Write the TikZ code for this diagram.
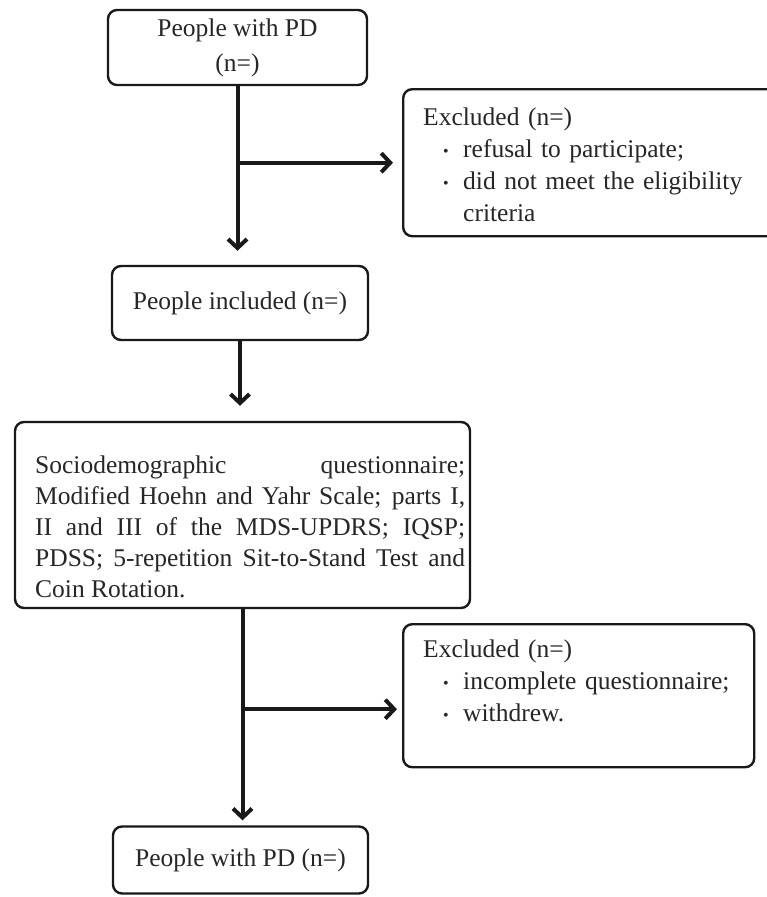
\documentclass[tikz,border=0pt]{standalone}
\usepackage{fontspec}
\setmainfont{Liberation Serif}
\usetikzlibrary{arrows.meta,calc}
\begin{document}
\begin{tikzpicture}[x=1pt,y=-1pt,
  box/.style={draw=black!90, line width=2.4pt, rounded corners=9pt, inner sep=0pt},
  txt/.style={inner sep=0pt, text=black!85, font=\fontsize{25.5}{32}\selectfont},
  arr/.style={draw=black!90, line width=4pt, -{Straight Barb[length=9pt,width=19pt]}}]
\useasboundingbox (0,0) rectangle (767,897);
\newcommand{\mybul}{\hspace*{20pt}\makebox[20pt][l]{\raisebox{1pt}{\fontsize{16}{16}\selectfont •}}}

\node[box, minimum width=259pt, minimum height=75pt, text=black!85, font=\fontsize{25.5}{35}\selectfont, align=center] (b1) at (237.5,47.5) {People with PD\\(n=)};

\node[box, minimum width=256pt, minimum height=74pt, text=black!85, font=\fontsize{25.5}{32}\selectfont] (b2) at (240,303) {People included (n=)};

\node[box, minimum width=455pt, minimum height=186pt] (b3) at (242.5,515) {};
\node[txt, text width=430pt, align=justify, anchor=north west, font=\fontsize{25.5}{30.8}\selectfont] (b3t) at (35,456) {Sociodemographic questionnaire;\linebreak Modified Hoehn and Yahr Scale; parts I,\linebreak II and III of the MDS-UPDRS; IQSP;\linebreak PDSS; 5-repetition Sit-to-Stand Test and\linebreak Coin Rotation.};

\node[box, minimum width=390pt, minimum height=147pt, anchor=north west] (e1) at (402,88) {};
\node[txt, text width=340pt, align=left, anchor=north west] (e1t) at (423,108) {Excluded (n=)\\
\mybul refusal to participate;\\
\mybul\parbox[t]{290pt}{\hyphenpenalty=10000 did not meet the eligibility\linebreak criteria}};

\node[box, minimum width=351pt, minimum height=143pt, anchor=north west] (e2) at (402,623) {};
\node[txt, text width=330pt, align=left, anchor=north west] (e2t) at (423,639.5) {Excluded (n=)\\
\mybul incomplete questionnaire;\\
\mybul withdrew.};

\node[box, minimum width=255pt, minimum height=67pt, text=black!85, font=\fontsize{25.5}{32}\selectfont] (b5) at (240.5,860) {People with PD (n=)};

\draw[arr] (b1.south) -- ($(b1.south |- b2.north)+(0,-14)$);
\draw[arr] (b1.south |- e1.west) -- ($(e1.west)+(-9,0)$);
\draw[arr] (b2.south) -- ($(b2.south |- b3.north)+(0,-15)$);
\draw[arr] (b3.south) -- ($(b3.south |- b5.north)+(0,-5)$);
\coordinate (a2) at ($(e2.west)+(-5,13.5)$);
\draw[arr] (b3.south |- a2) -- (a2);
\end{tikzpicture}
\end{document}
